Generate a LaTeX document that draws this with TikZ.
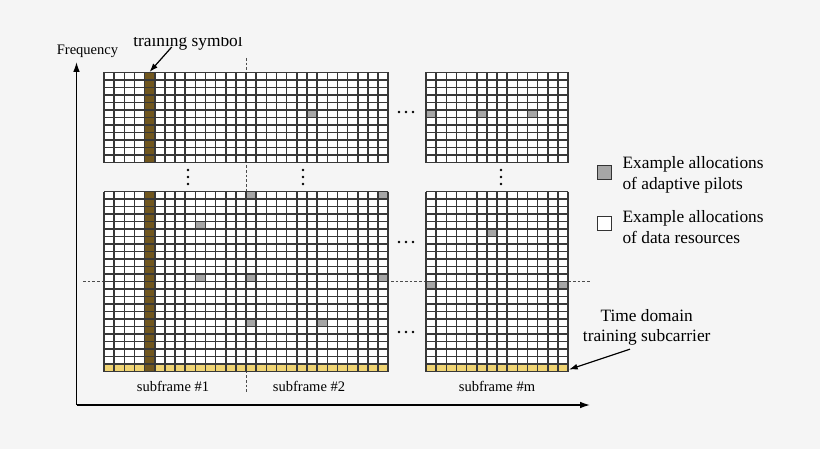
\documentclass[tikz,border=0pt]{standalone}
\usepackage{fontspec}
\setmainfont{Liberation Serif}
\usetikzlibrary{arrows.meta}

\definecolor{bgcol}{RGB}{245,245,245}
\definecolor{trainbrown}{RGB}{112,86,30}
\definecolor{subyellow}{RGB}{240,212,115}
\definecolor{pilotgray}{RGB}{166,166,166}

% cell size in px
\newcommand{\cellw}{10.15}
\newcommand{\cellh}{7.5}
% white background of a block: x0, y0, columns, rows
\newcommand{\rblock}[4]{%
  \fill[white] (#1,#2) rectangle ++({#3*\cellw},{#4*\cellh});
}
% one coloured cell: x0, y0, column, row, colour
\newcommand{\rcell}[5]{%
  \fill[#5] ({#1+#3*\cellw},{#2+#4*\cellh}) rectangle ++(\cellw,\cellh);
}
% grid lines of a block: x0, y0, columns, rows
\newcommand{\rlines}[4]{%
  \foreach \i in {0,...,#3} \draw[gridline] ({#1+\i*\cellw},#2) -- ++(0,{#4*\cellh});
  \foreach \j in {0,...,#4} \draw[gridline] (#1,{#2+\j*\cellh}) -- ++({#3*\cellw},0);
}

\begin{document}
\begin{tikzpicture}[x=0.75pt,y=-0.75pt,
    gridline/.style={line width=1.15pt,black!78},
    axis/.style={line width=1pt,-{Latex[length=7.5pt,width=5pt]}},
    pointer/.style={line width=0.9pt,-{Latex[length=6.5pt,width=4.5pt]}},
    guide/.style={black!70,line width=0.6pt,dash pattern=on 2pt off 1.5pt},
    keybox/.style={draw=black!80,line width=0.8pt,minimum size=10.5pt,inner sep=0pt},
    bigtext/.style={font=\fontsize{13}{15.75}\selectfont},
    smalltext/.style={font=\fontsize{10.9}{13}\selectfont}]
    % page
    \fill[bgcol] (0,0) rectangle (820,449);
    \useasboundingbox (0,0) rectangle (820,449);

    % draw blocks
    \rblock{104}{72.5}{28}{12}
    \rblock{426}{72.5}{14}{12}
    \rblock{104}{191.5}{28}{24}
    \rblock{426}{191.5}{14}{24}

    % training subcarrier (last row) and training symbol (column 4)
    \fill[subyellow] (104,{191.5+23*\cellh}) rectangle ++({28*\cellw},\cellh);
    \fill[subyellow] (426,{191.5+23*\cellh}) rectangle ++({14*\cellw},\cellh);
    \fill[trainbrown] ({104+4*\cellw},72.5) rectangle ++(\cellw,{12*\cellh});
    \fill[trainbrown] ({104+4*\cellw},191.5) rectangle ++(\cellw,{24*\cellh});

    % pilots
    \rcell{104}{72.5}{20}{5}{pilotgray}
    \foreach \c in {0,5,10} \rcell{426}{72.5}{\c}{5}{pilotgray};
    \foreach \c/\r in {14/0,27/0,9/4,9/11,14/11,27/11,14/17,21/17}
        \rcell{104}{191.5}{\c}{\r}{pilotgray};
    \foreach \c/\r in {6/5,0/12,13/12} \rcell{426}{191.5}{\c}{\r}{pilotgray};

    % dashed guides
    \draw[guide] (246.1,58) -- (246.1,393);
    \draw[guide] (83,281.5) -- (590,281.5);

    % grid lines
    \rlines{104}{72.5}{28}{12}
    \rlines{426}{72.5}{14}{12}
    \rlines{104}{191.5}{28}{24}
    \rlines{426}{191.5}{14}{24}

    % dots
    \foreach \x in {188,303,501} \foreach \y in {170,177,184}
        \fill (\x,\y) circle[radius=1pt];
    \foreach \y in {112,242,332} \foreach \x in {399,406,413}
        \fill (\x,\y) circle[radius=1pt];

    % draw axes
    \coordinate (origin) at (76.5,405);
    \coordinate (freqtip) at (76.5,62);
    \coordinate (timetip) at (590,405);
    \draw[axis] (origin) -- (freqtip);
    \draw[axis] (origin) -- (timetip);
    \node[smalltext,anchor=base] (freq) at (87.5,55) {Frequency};

    % subframe labels
    \node[smalltext,anchor=base] (sf1) at (173,391) {subframe \#1};
    \node[smalltext,anchor=base] (sf2) at (309,391) {subframe \#2};
    \node[smalltext,anchor=base] (sfm) at (497,391) {subframe \#m};

    % training symbol
    \begin{scope}
        \clip (110,38) rectangle (270,60);
        \node[bigtext,anchor=base,inner sep=0pt] (trainlbl) at (188,47) {training symbol};
    \end{scope}
    \coordinate (trainsym) at (149.5,72);
    \draw[pointer] ([xshift=-12.2pt]trainlbl.base) -- (trainsym);

    % legend
    \node[keybox,fill=pilotgray] (pilotkey) at (604.8,172.2) {};
    \node[bigtext,anchor=west,align=left,inner sep=0pt] (pilottxt) at (622.3,175) {Example allocations\\of adaptive pilots};
    \node[keybox,fill=white] (datakey) at (604.8,223.7) {};
    \node[bigtext,anchor=west,align=left,inner sep=0pt] (datatxt) at (622.3,227) {Example allocations\\of data resources};

    % time domain training subcarrier
    \node[font=\fontsize{13}{15}\selectfont,align=center,inner sep=0pt] (tdlbl) at (646.7,327) {Time domain\\training subcarrier};
    \coordinate (tdtip) at (569,369.5);
    \draw[pointer] ([xshift=-12.5pt,yshift=-3pt]tdlbl.south) -- (tdtip);
\end{tikzpicture}
\end{document}
